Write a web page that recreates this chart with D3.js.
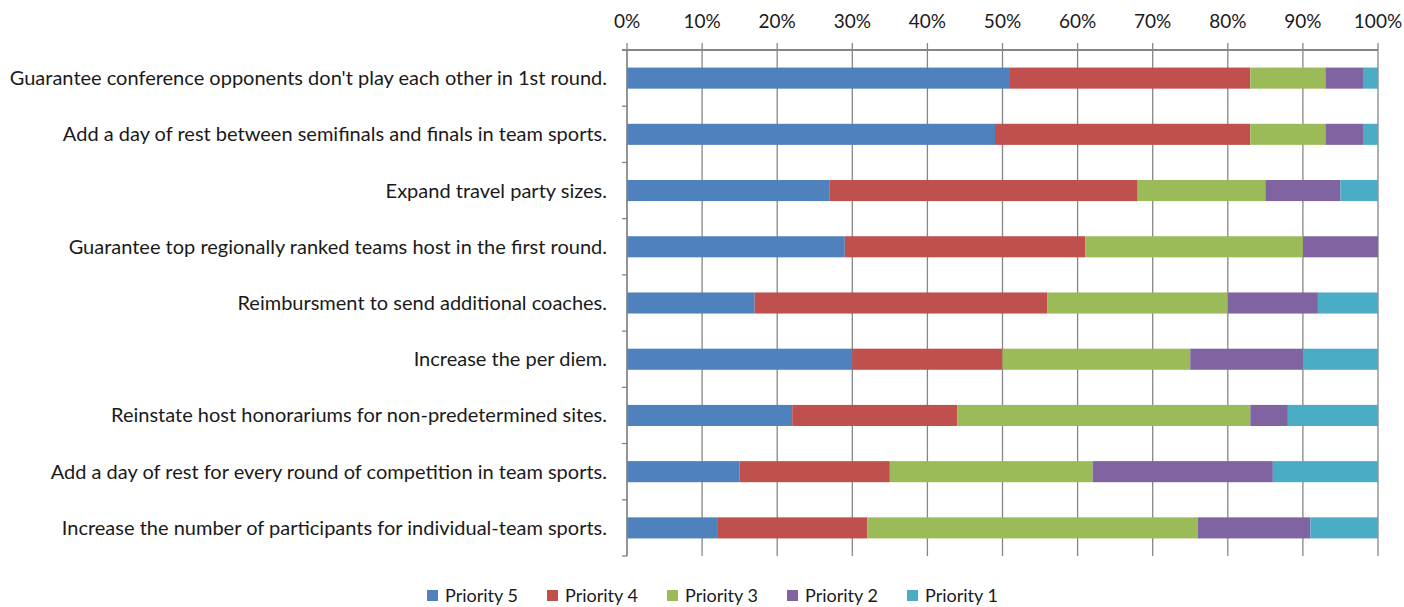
<!DOCTYPE html>
<html>
<head>
  <meta charset="utf-8">
  <script src="https://d3js.org/d3.v7.min.js"></script>
  <style>
    body { margin: 0; background: #fff; }
    svg text { font-family: Lato, "Open Sans", sans-serif; fill: #1a1a1a; }
  </style>
</head>
<body>
  <div id="vis"></div>
  <script>
    // chart data
    var categories = [
      "Guarantee conference opponents don't play each other in 1st round.",
      "Add a day of rest between semifinals and finals in team sports.",
      "Expand travel party sizes.",
      "Guarantee top regionally ranked teams host in the first round.",
      "Reimbursment to send additional coaches.",
      "Increase the per diem.",
      "Reinstate host honorariums for non-predetermined sites.",
      "Add a day of rest for every round of competition in team sports.",
      "Increase the number of participants for individual-team sports."
    ];
    var seriesNames = ["Priority 5", "Priority 4", "Priority 3", "Priority 2", "Priority 1"];
    var priority5 = [51, 49, 27, 29, 17, 30, 22, 15, 12];
    var priority4 = [32, 34, 41, 32, 39, 20, 22, 20, 20];
    var priority3 = [10, 10, 17, 29, 24, 25, 39, 27, 44];
    var priority2 = [5, 5, 10, 10, 12, 15, 5, 24, 15];
    var priority1 = [2, 2, 5, 0, 8, 10, 12, 14, 9];
    var tickValues = [0, 10, 20, 30, 40, 50, 60, 70, 80, 90, 100];
    var colors = ["#4F81BD", "#C0504D", "#9BBB59", "#8064A2", "#4BACC6"];

    var margin = { top: 50, right: 26, bottom: 51, left: 627 },
      width = 1404 - margin.left - margin.right,
      height = 607 - margin.top - margin.bottom;

    var rows = categories.map(function (c, i) {
      return { cat: c, p5: priority5[i], p4: priority4[i], p3: priority3[i], p2: priority2[i], p1: priority1[i] };
    });
    var keys = ["p5", "p4", "p3", "p2", "p1"];
    var stacked = d3.stack().keys(keys)(rows);

    var svg = d3.select("#vis").append("svg")
      .attr("width", 1404)
      .attr("height", 607);

    var g = svg.append("g")
      .attr("transform", "translate(" + margin.left + "," + margin.top + ")");

    var x = d3.scaleLinear().domain([0, 100]).range([0, width]);
    var y = d3.scaleBand().domain(categories).range([0, height]).paddingInner(0.625).paddingOuter(0.3125);
    var yb = d3.scaleBand().domain(categories).range([0, height]);

    // gridlines
    g.append("g").selectAll("line")
      .data(tickValues)
      .enter().append("line")
      .attr("x1", function (d) { return x(d); })
      .attr("x2", function (d) { return x(d); })
      .attr("y1", -7)
      .attr("y2", height)
      .attr("stroke", "#868686")
      .attr("stroke-width", 1.3);

    // top axis line
    g.append("line")
      .attr("x1", -5).attr("x2", width)
      .attr("y1", 0).attr("y2", 0)
      .attr("stroke", "#868686")
      .attr("stroke-width", 2);

    g.append("g").selectAll("text")
      .data(tickValues)
      .enter().append("text")
      .attr("x", function (d) { return x(d); })
      .attr("y", -22)
      .attr("text-anchor", "middle")
      .style("font-size", "19px")
      .text(function (d) { return d + "%"; });

    // bars
    g.append("g").selectAll("g")
      .data(stacked)
      .enter().append("g")
      .attr("fill", function (d, i) { return colors[i]; })
      .selectAll("rect")
      .data(function (d) { return d; })
      .enter().append("rect")
      .attr("x", function (d) { return x(d[0]); })
      .attr("width", function (d) { return x(d[1]) - x(d[0]); })
      .attr("y", function (d) { return y(d.data.cat); })
      .attr("height", y.bandwidth());

    // left axis
    g.append("line")
      .attr("x1", 0).attr("x2", 0)
      .attr("y1", 0).attr("y2", height)
      .attr("stroke", "#868686")
      .attr("stroke-width", 1.3);

    g.append("g").selectAll("line")
      .data(categories)
      .enter().append("line")
      .attr("x1", -5).attr("x2", 0)
      .attr("y1", function (d) { return yb(d) + yb.bandwidth(); })
      .attr("y2", function (d) { return yb(d) + yb.bandwidth(); })
      .attr("stroke", "#868686")
      .attr("stroke-width", 1.3);

    g.append("g").selectAll("text")
      .data(categories)
      .enter().append("text")
      .attr("x", -20)
      .attr("y", function (d) { return yb(d) + yb.bandwidth() / 2; })
      .attr("dy", "0.35em")
      .attr("text-anchor", "end")
      .style("font-size", "20px")
      .text(function (d) { return d; });

    // legend
    var legendX = [427, 547, 667, 787, 907];
    var legend = svg.append("g").selectAll("g")
      .data(seriesNames)
      .enter().append("g")
      .attr("transform", function (d, i) { return "translate(" + legendX[i] + ",590)"; });

    legend.append("rect")
      .attr("width", 11).attr("height", 11)
      .attr("fill", function (d, i) { return colors[i]; });

    legend.append("text")
      .attr("x", 18)
      .attr("y", 6)
      .attr("dy", "0.35em")
      .style("font-size", "18px")
      .text(function (d) { return d; });
  </script>
</body>
</html>
